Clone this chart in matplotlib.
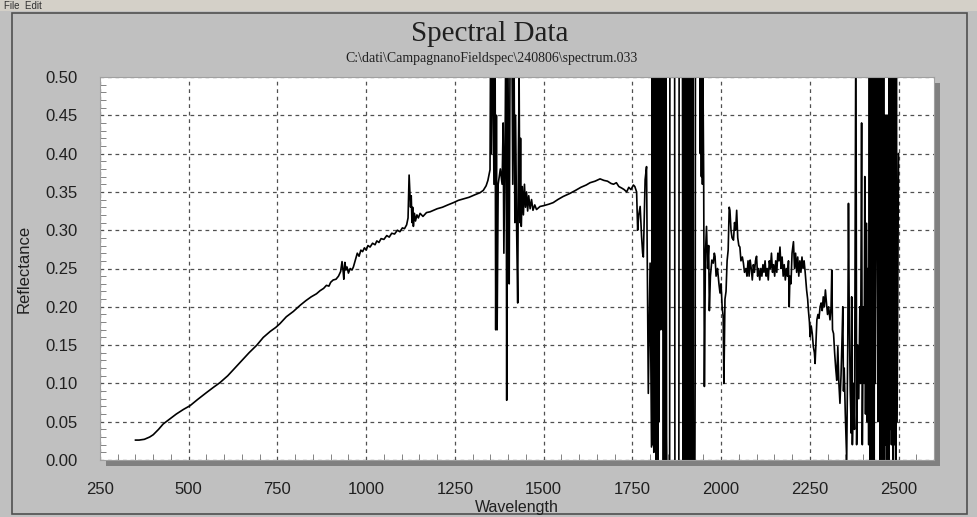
import matplotlib
matplotlib.use("Agg")
import matplotlib.pyplot as plt
from matplotlib.patches import Rectangle
from matplotlib.ticker import MultipleLocator
import numpy as np


# ===== spectrum =====
wavelength = [
    350, 360, 375, 390, 400, 415, 428, 445, 465, 485, 504, 525, 550, 570, 588,
    610, 630, 650, 670, 692, 710, 730, 745, 757, 775, 795, 814, 830, 845, 860,
    870, 880, 888, 895, 900, 907, 915, 922, 928, 932, 935, 937, 940, 943, 946,
    950, 955, 960, 964, 970, 975, 980, 985, 990, 995, 1000, 1005, 1011, 1018,
    1025, 1030, 1036, 1042, 1050, 1058, 1065, 1072, 1080, 1088, 1095, 1102,
    1108, 1114, 1118, 1121, 1123, 1125, 1127, 1129, 1131, 1133, 1136, 1139,
    1143, 1147, 1152, 1160, 1170, 1180, 1190, 1200, 1215, 1230, 1246, 1260,
    1275, 1290, 1305, 1321, 1330, 1338, 1343, 1349,
    1351, 1353, 1356, 1360, 1363, 1365, 1367, 1369, 1372, 1378, 1383, 1386,
    1388, 1392, 1394, 1396, 1398, 1401, 1403, 1406, 1410, 1413, 1416, 1419,
    1421, 1424, 1427, 1429, 1431, 1433, 1435, 1437, 1440, 1443, 1446, 1449,
    1452, 1455, 1458, 1462, 1466, 1470, 1475, 1480, 1490, 1500, 1515, 1527,
    1540, 1555, 1574, 1590, 1605, 1620, 1631, 1645, 1659, 1670, 1680, 1690,
    1697, 1705, 1712, 1720, 1727, 1734, 1740, 1746, 1753, 1757, 1762, 1765,
    1768, 1772, 1776, 1779, 1781, 1786, 1790, 1795, 1800, 1804,
    1806, 1807.5, 1809, 1810.5, 1812, 1813.5, 1815, 1816.5, 1818, 1819.5,
    1821, 1822.5, 1824, 1825.5, 1827, 1828.5, 1830, 1831.5, 1833, 1834.5,
    1836, 1837.5, 1839, 1840.5, 1842, 1843.5, 1845, 1846.5, 1848, 1855,
    1856, 1869, 1870, 1881, 1882, 1891,
    1892.5, 1894, 1895.5, 1897, 1898.5, 1900, 1901.5, 1903, 1904.5, 1906,
    1907.5, 1909, 1910.5, 1912, 1913.5, 1915, 1916.5, 1918, 1919.5, 1921,
    1922, 1926, 1927, 1928, 1940, 1941.5, 1943, 1944.5, 1946, 1947.5, 1949,
    1951, 1953, 1956, 1959, 1962, 1965, 1967, 1970, 1974, 1978, 1981, 1983,
    1986, 1990, 1994, 1997, 2000, 2003, 2006, 2008, 2011, 2014, 2017, 2020,
    2023, 2025, 2028, 2031, 2035, 2038, 2041, 2044, 2047, 2050, 2053, 2056,
    2060, 2063, 2066, 2070, 2073, 2076, 2079, 2082, 2085, 2088, 2091, 2094,
    2097, 2100, 2103, 2106, 2109, 2112, 2115, 2118, 2121, 2124, 2127, 2130,
    2133, 2136, 2139, 2142, 2145, 2148, 2151, 2154, 2157, 2160, 2163, 2166,
    2169, 2172, 2175, 2178, 2181, 2184, 2187, 2190, 2192, 2194, 2197, 2200,
    2204, 2207, 2210, 2213, 2216, 2219, 2222, 2225, 2228, 2231, 2234, 2237,
    2241, 2244, 2246, 2249, 2251, 2254, 2257, 2260, 2263, 2265, 2268, 2270,
    2273, 2276, 2279, 2282, 2285, 2288, 2291, 2294, 2297, 2300, 2303, 2307,
    2310, 2312, 2314, 2317, 2320, 2323, 2326, 2329, 2332, 2335, 2338, 2341,
    2343, 2345, 2347, 2350, 2352, 2354, 2357, 2359, 2361, 2364, 2367, 2368,
    2370, 2373, 2376, 2378, 2380, 2382, 2385, 2388, 2391, 2393, 2396, 2398,
    2401, 2403, 2405, 2407, 2410, 2412, 2414, 2416, 2418, 2419.5, 2421,
    2422.5, 2424, 2425.5, 2427, 2428.5, 2430, 2431.5, 2433, 2434.5, 2437,
    2440, 2442, 2444, 2446, 2447.5, 2449, 2450.5, 2452, 2453.5, 2455, 2456.5,
    2458, 2460, 2462, 2463.5, 2465, 2466.5, 2468, 2469.5, 2471, 2472.5, 2474,
    2476, 2478, 2480, 2482, 2484, 2486, 2488, 2490, 2492, 2494, 2496, 2500,
]

reflectance = [
    0.026, 0.026, 0.027, 0.030, 0.033, 0.040, 0.047, 0.053, 0.060, 0.066,
    0.071, 0.079, 0.088, 0.095, 0.101, 0.110, 0.120, 0.130, 0.140, 0.150,
    0.160, 0.168, 0.173, 0.178, 0.187, 0.194, 0.202, 0.208, 0.213, 0.217,
    0.221, 0.224, 0.228, 0.227, 0.232, 0.235, 0.236, 0.240, 0.246, 0.259,
    0.247, 0.236, 0.258, 0.248, 0.252, 0.244, 0.250, 0.248, 0.252, 0.262,
    0.270, 0.266, 0.274, 0.272, 0.277, 0.274, 0.280, 0.278, 0.283, 0.281,
    0.286, 0.284, 0.289, 0.288, 0.293, 0.291, 0.296, 0.295, 0.300, 0.298,
    0.303, 0.302, 0.307, 0.316, 0.372, 0.352, 0.330, 0.345, 0.310, 0.330,
    0.305, 0.322, 0.312, 0.320, 0.316, 0.322, 0.318, 0.323, 0.324, 0.326,
    0.328, 0.330, 0.333, 0.336, 0.339, 0.341, 0.343, 0.346, 0.349, 0.352,
    0.358, 0.365, 0.379,
    0.60, 0.40, 0.60, 0.36, 0.60, 0.17, 0.45, 0.17, 0.36, 0.38, 0.36, 0.44,
    0.27, 0.45, 0.60, 0.078, 0.60, 0.40, 0.23, 0.60, 0.60, 0.36, 0.60, 0.31,
    0.45, 0.30, 0.205, 0.40, 0.50, 0.31, 0.42, 0.305, 0.357, 0.32, 0.36,
    0.33, 0.35, 0.325, 0.345, 0.328, 0.340, 0.326, 0.333, 0.327, 0.331,
    0.332, 0.334, 0.336, 0.340, 0.344, 0.348, 0.352, 0.356, 0.359, 0.362,
    0.364, 0.367, 0.365, 0.364, 0.361, 0.360, 0.362, 0.357, 0.355, 0.353,
    0.350, 0.356, 0.353, 0.359, 0.357, 0.350, 0.300,
    0.320, 0.331, 0.292, 0.270, 0.265, 0.366, 0.383, 0.087, 0.257, 0.017,
    0.60, 0.02, 0.60, 0.01, 0.60, 0.03, 0.60, 0.00, 0.60, 0.02,
    0.60, 0.00, 0.60, 0.05, 0.60, 0.17, 0.60, 0.20, 0.60, 0.17,
    0.60, 0.00, 0.60, 0.00, 0.60, 0.00, 0.60, 0.03, -0.05, -0.05,
    0.65, 0.65, -0.05, -0.05, 0.65, 0.65,
    0.00, 0.60, 0.02, 0.60, 0.00, 0.60, 0.04, 0.60, 0.00, 0.60,
    0.10, 0.60, 0.00, 0.60, 0.07, 0.60, 0.00, 0.60, 0.03, 0.60,
    -0.05, -0.05, 0.12, 0.65, 0.65, 0.40, 0.60, 0.37, 0.60, 0.36, 0.50,
    0.37, 0.096, 0.27, 0.305, 0.25, 0.28, 0.195, 0.24, 0.261, 0.257, 0.27,
    0.266, 0.24, 0.25, 0.23, 0.218, 0.23, 0.20, 0.187, 0.10, 0.21, 0.22,
    0.26, 0.274, 0.33, 0.326, 0.30, 0.29, 0.287, 0.31, 0.30, 0.326, 0.29,
    0.28, 0.278, 0.26, 0.265, 0.257, 0.245, 0.25, 0.24, 0.26, 0.24, 0.261,
    0.25, 0.235, 0.255, 0.245, 0.26, 0.266, 0.24, 0.25, 0.235, 0.25, 0.24,
    0.255, 0.245, 0.26, 0.24, 0.25, 0.235, 0.26, 0.25, 0.27, 0.245, 0.255,
    0.24, 0.26, 0.245, 0.27, 0.26, 0.278, 0.25, 0.265, 0.24, 0.255, 0.235,
    0.25, 0.24, 0.26, 0.20, 0.24, 0.23, 0.27, 0.285, 0.25, 0.27, 0.245,
    0.265, 0.24, 0.26, 0.245, 0.265, 0.25, 0.26, 0.245, 0.222, 0.21, 0.196,
    0.18, 0.161, 0.175, 0.165, 0.148, 0.14, 0.126, 0.16, 0.183, 0.19, 0.185,
    0.200, 0.205, 0.195, 0.213, 0.20, 0.222, 0.205, 0.19, 0.20, 0.183, 0.20,
    0.248, 0.17, 0.165, 0.14, 0.12, 0.104, 0.148, 0.10, 0.074, 0.11, 0.16,
    0.200, 0.09, 0.12, 0.061, 0.03, 0.00, 0.15, 0.335, 0.20, 0.09, 0.035,
    0.213, 0.02, 0.10, 0.04, 0.30, 0.60, 0.02, 0.15, 0.08, 0.20, 0.10, 0.44,
    0.02, 0.20, 0.10, 0.37, 0.06, 0.309, 0.05, 0.25, 0.02, 0.60, 0.00, 0.60,
    0.02, 0.45, 0.00, 0.60, 0.04, 0.60, 0.00, 0.60, 0.10, 0.30,
    0.60, 0.05, 0.30, 0.60, 0.00, 0.60, 0.03, 0.60, 0.00, 0.60, 0.02,
    0.60, 0.00, 0.45, 0.02, 0.45, 0.00, 0.45, 0.05, 0.45, 0.00, 0.60,
    0.04, 0.60, 0.02, 0.60, 0.00, 0.55, 0.02, 0.60, 0.00, 0.60, 0.05, 0.40,
]

title = "Spectral Data"
subtitle = "C:\\dati\\CampagnanoFieldspec\\240806\\spectrum.033"
x_ticks = [250, 500, 750, 1000, 1250, 1500, 1750, 2000, 2250, 2500]
y_ticks = [0.00, 0.05, 0.10, 0.15, 0.20, 0.25, 0.30, 0.35, 0.40, 0.45, 0.50]

W, H = 977, 517
panel = "#c0c0c0"

fig = plt.figure(figsize=(W / 100, H / 100), dpi=100, facecolor=panel)

# window chrome
fig.patches.append(Rectangle((0, 1 - 11 / H), 1, 11 / H, transform=fig.transFigure,
                             facecolor="#d4d0c8", edgecolor="none", zorder=-2))
fig.text(4 / W, 1 - 6 / H, "File  Edit", fontsize=7, family="Liberation Sans",
         color="#303030", va="center", ha="left")
fig.patches.append(Rectangle((12 / W, 3 / H), (W - 22) / W, (H - 16) / H,
                             transform=fig.transFigure, facecolor="none",
                             edgecolor="#505050", lw=1.2, zorder=-1))

l, r, t, b = 100, 934, 77, 460
ax = fig.add_axes([l / W, 1 - b / H, (r - l) / W, (b - t) / H])
ax.set_zorder(2)

# drop shadow behind the plot area
fig.patches.append(Rectangle(((l + 6) / W, 1 - (b + 6) / H), (r - l) / W, (b - t) / H,
                             transform=fig.transFigure, facecolor="#808080",
                             edgecolor="none", zorder=-1))

ax.set_facecolor("white")
ax.plot(wavelength, reflectance, color="black", lw=1.2)
ax.set_xlim(250, 2600)
ax.set_ylim(0, 0.5)
ax.set_xticks(x_ticks)
ax.set_yticks(y_ticks)
ax.set_xticklabels([str(v) for v in x_ticks])
ax.set_yticklabels(["%.2f" % v for v in y_ticks])
ax.xaxis.set_minor_locator(MultipleLocator(50))
ax.yaxis.set_minor_locator(MultipleLocator(0.01))
ax.tick_params(which="minor", direction="in", length=4, color="#707070", top=False, right=False)
ax.tick_params(which="major", direction="in", length=0, pad=16, labelsize=12,
               labelcolor="#202020")
for lab in ax.get_xticklabels() + ax.get_yticklabels():
    lab.set_family("Liberation Sans")

ax.grid(True, which="major", color="#505050", linestyle=(0, (3, 3)), linewidth=0.9)
for s in ax.spines.values():
    s.set_color("#a0a0a0")
    s.set_linewidth(0.8)

ax.set_xlabel("Wavelength", family="Liberation Sans", fontsize=11.5, color="#202020", labelpad=2)
ax.set_ylabel("Reflectance", family="Liberation Sans", fontsize=12, color="#202020", labelpad=10)

fig.text(490 / W, 1 - 34 / H, title, family="Liberation Serif", fontsize=21,
         ha="center", va="center", color="#202020")
fig.text(492 / W, 1 - 58 / H, subtitle, family="Liberation Serif", fontsize=10,
         ha="center", va="center", color="#202020")

plt.savefig("out.png", dpi=100, facecolor=panel)
plt.close()
